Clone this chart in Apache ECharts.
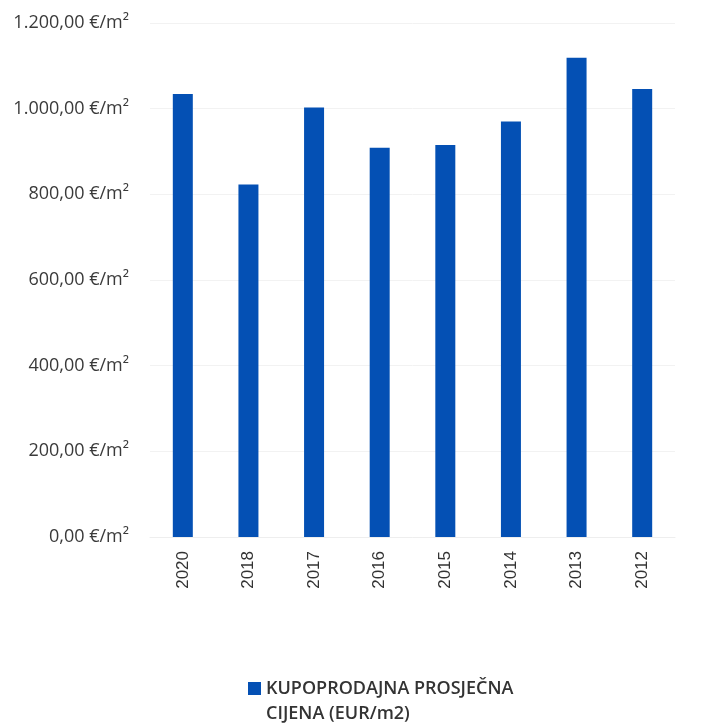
<!DOCTYPE html>
<html><head><meta charset="utf-8">
<script src="https://cdn.jsdelivr.net/npm/echarts@6/dist/echarts.min.js"></script>
<style>html,body{margin:0;padding:0;background:#fff}#c{width:727px;height:723px}</style>
</head><body><div id="c"></div>
<script>
const categories = ['2020','2018','2017','2016','2015','2014','2013','2012'];
const values = [1034, 823, 1003, 909, 915, 970, 1119, 1046];
const seriesName = 'KUPOPRODAJNA PROSJEČNA CIJENA (EUR/m2)';
const yTicks = {min: 0, max: 1200, interval: 200};

const chart = echarts.init(document.getElementById('c'));
chart.setOption({
  animation: false,
  grid: {left: 150, right: 52, top: 23, bottom: 186},
  legend: {
    data: [seriesName],
    left: 243, top: 646,
    itemWidth: 13, itemHeight: 13,
    icon: 'rect',
    formatter: () => '\nKUPOPRODAJNA PROSJEČNA\nCIJENA (EUR/m2)',
    textStyle: {fontFamily: 'Open Sans', fontSize: 18, fontWeight: 600, color: '#333', lineHeight: 25}
  },
  xAxis: {
    type: 'category', data: categories,
    axisLine: {show: true, lineStyle: {color: '#eeeeee'}},
    axisTick: {show: false},
    axisLabel: {rotate: 90, margin: 14, fontFamily: 'Liberation Sans', fontSize: 17, color: '#333'}
  },
  yAxis: {
    type: 'value', min: yTicks.min, max: yTicks.max, interval: yTicks.interval,
    axisLine: {show: false}, axisTick: {show: false},
    splitLine: {lineStyle: {color: '#f2f2f2'}},
    axisLabel: {
      margin: 21, fontFamily: 'Open Sans', fontSize: 18, color: '#3a3a3a',
      formatter: v => {
        const s = v.toFixed(2).replace('.', ',');
        const [i, d] = s.split(',');
        return i.replace(/\B(?=(\d{3})+(?!\d))/g, '.') + ',' + d + ' €/m²';
      }
    }
  },
  series: [{
    name: seriesName, type: 'bar', data: values, barWidth: 20,
    itemStyle: {color: '#0450B4'}
  }]
});
</script></body></html>
